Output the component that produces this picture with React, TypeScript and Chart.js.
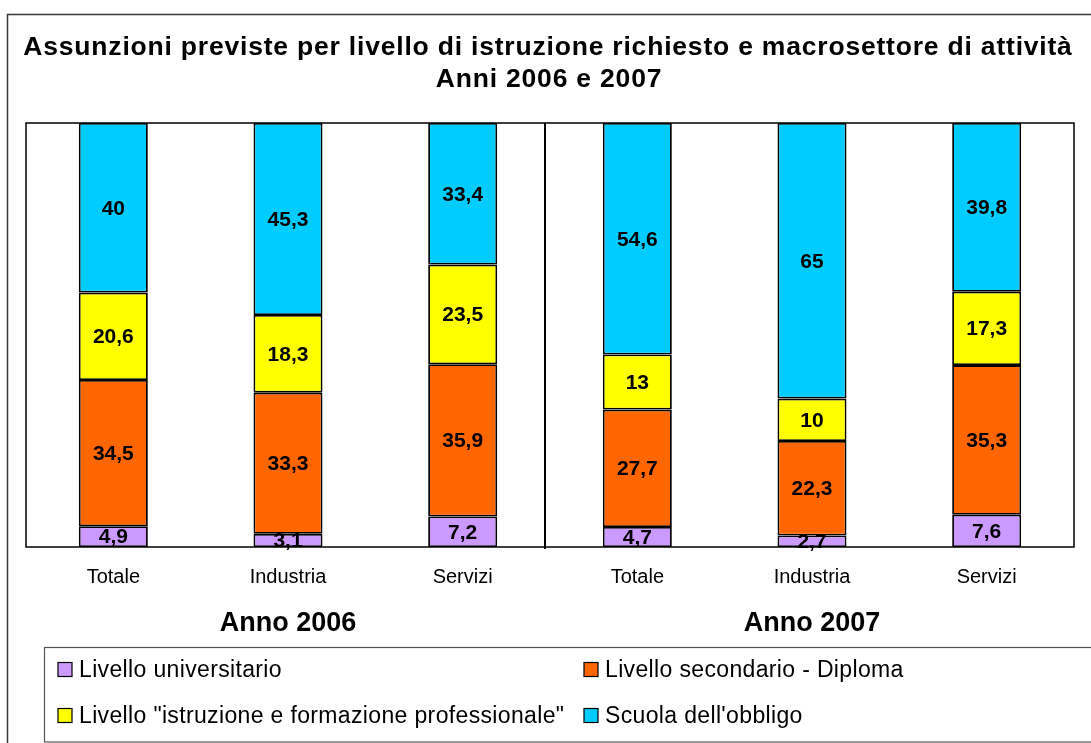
import { useEffect, useRef } from "react";
import { Chart, registerables } from "chart.js";

Chart.register(...registerables);

const categories = ["Totale", "Industria", "Servizi", "Totale", "Industria", "Servizi"];
const groupLabels = ["Anno 2006", "Anno 2007"];
const seriesNames = [
  "Livello universitario",
  "Livello secondario - Diploma",
  'Livello "istruzione e formazione professionale"',
  "Scuola dell'obbligo",
];
const universitario = [4.9, 3.1, 7.2, 4.7, 2.7, 7.6];
const secondario = [34.5, 33.3, 35.9, 27.7, 22.3, 35.3];
const professionale = [20.6, 18.3, 23.5, 13, 10, 17.3];
const obbligo = [40, 45.3, 33.4, 54.6, 65, 39.8];
const seriesColors = ["#CC99FF", "#FF6600", "#FFFF00", "#00CCFF"];
const titleLines = [
  "Assunzioni previste per livello di istruzione richiesto e macrosettore di attività",
  "Anni 2006 e 2007",
];

const FONT = '"Liberation Sans", Arial, Helvetica, sans-serif';

const decorPlugin = {
  id: "decor",
  beforeDraw(chart: any) {
    const { ctx, width, height } = chart;
    ctx.save();
    ctx.fillStyle = "#ffffff";
    ctx.fillRect(0, 0, width, height);
    ctx.strokeStyle = "#3a3a3a";
    ctx.lineWidth = 1.5;
    ctx.strokeRect(7.5, 14.5, width + 20, height + 20);
    ctx.restore();
  },
  afterDatasetsDraw(chart: any) {
    const { ctx, chartArea } = chart;
    const xs = chart.scales.x;
    ctx.save();
    ctx.strokeStyle = "#000";
    ctx.lineWidth = 1.5;
    ctx.strokeRect(chartArea.left, chartArea.top, chartArea.right - chartArea.left, chartArea.bottom - chartArea.top);
    const sep = (xs.getPixelForValue(2) + xs.getPixelForValue(3)) / 2 - 5;
    ctx.lineWidth = 2;
    ctx.beginPath();
    ctx.moveTo(sep, chartArea.top);
    ctx.lineTo(sep, chartArea.bottom + 2);
    ctx.stroke();
    ctx.fillStyle = "#000";
    ctx.font = `bold 21px ${FONT}`;
    ctx.textAlign = "center";
    ctx.textBaseline = "middle";
    chart.data.datasets.forEach((ds: any, di: number) => {
      const meta = chart.getDatasetMeta(di);
      meta.data.forEach((el: any, i: number) => {
        const v = ds.data[i] as number;
        const p = el.getProps(["x", "y", "base"], true);
        ctx.fillText(String(v).replace(".", ","), p.x, (p.y + p.base) / 2 + 1);
      });
    });
    ctx.restore();
  },
  afterDraw(chart: any) {
    const { ctx } = chart;
    const xs = chart.scales.x;
    ctx.save();
    ctx.fillStyle = "#000";
    ctx.font = `bold 26.5px ${FONT}`;
    ctx.textAlign = "center";
    ctx.textBaseline = "alphabetic";
    (ctx as any).letterSpacing = "0.8px";
    ctx.fillText(titleLines[0], 548, 55);
    ctx.fillText(titleLines[1], 549, 87);
    (ctx as any).letterSpacing = "0px";
    ctx.font = `bold 27px ${FONT}`;
    groupLabels.forEach((g, gi) => {
      const x = xs.getPixelForValue(gi * 3 + 1);
      ctx.fillText(g, x, 631);
    });
    ctx.strokeStyle = "#555";
    ctx.lineWidth = 1.2;
    ctx.strokeRect(44.5, 647.5, chart.width + 20, 94.5);
    ctx.font = `23px ${FONT}`;
    ctx.textAlign = "left";
    (ctx as any).letterSpacing = "0.35px";
    const colX = [58, 584];
    const rowBase = [677, 723];
    seriesNames.forEach((name, i) => {
      const cx = colX[i % 2];
      const by = rowBase[Math.floor(i / 2)];
      ctx.fillStyle = seriesColors[i];
      ctx.fillRect(cx, by - 14.5, 14, 14);
      ctx.strokeStyle = "#000";
      ctx.lineWidth = 1.2;
      ctx.strokeRect(cx, by - 14.5, 14, 14);
      ctx.fillStyle = "#000";
      ctx.fillText(name, cx + 21, by);
    });
    ctx.restore();
  },
};

export default function App() {
  const ref = useRef<HTMLCanvasElement | null>(null);
  useEffect(() => {
    if (!ref.current) return;
    const seriesValues = [universitario, secondario, professionale, obbligo];
    const chart = new Chart(ref.current, {
      type: "bar",
      data: {
        labels: categories,
        datasets: seriesValues.map((vals, i) => ({
          label: seriesNames[i],
          data: vals,
          backgroundColor: seriesColors[i],
          borderColor: "#000",
          borderWidth: 1.8,
          borderSkipped: false,
          categoryPercentage: 1,
          barPercentage: 0.395,
        })),
      },
      options: {
        animation: false,
        responsive: false,
        devicePixelRatio: 1,
        layout: { padding: { left: 26, right: 17, top: 123, bottom: 0 } },
        plugins: {
          legend: { display: false },
          title: { display: false },
          tooltip: { enabled: false },
        },
        scales: {
          x: {
            stacked: true,
            grid: { display: false, drawTicks: false },
            border: { display: false },
            ticks: {
              color: "#000",
              font: { family: FONT, size: 20 },
              padding: 18,
              maxRotation: 0,
              autoSkip: false,
            },
            afterFit: (s: any) => {
              s.height = 196;
            },
          },
          y: { stacked: true, min: 0, max: 100, display: false },
        },
      },
      plugins: [decorPlugin],
    });
    return () => chart.destroy();
  }, []);
  return (
    <canvas
      ref={ref}
      width={1091}
      height={743}
      style={{ position: "absolute", left: 0, top: 0, display: "block" }}
    />
  );
}
